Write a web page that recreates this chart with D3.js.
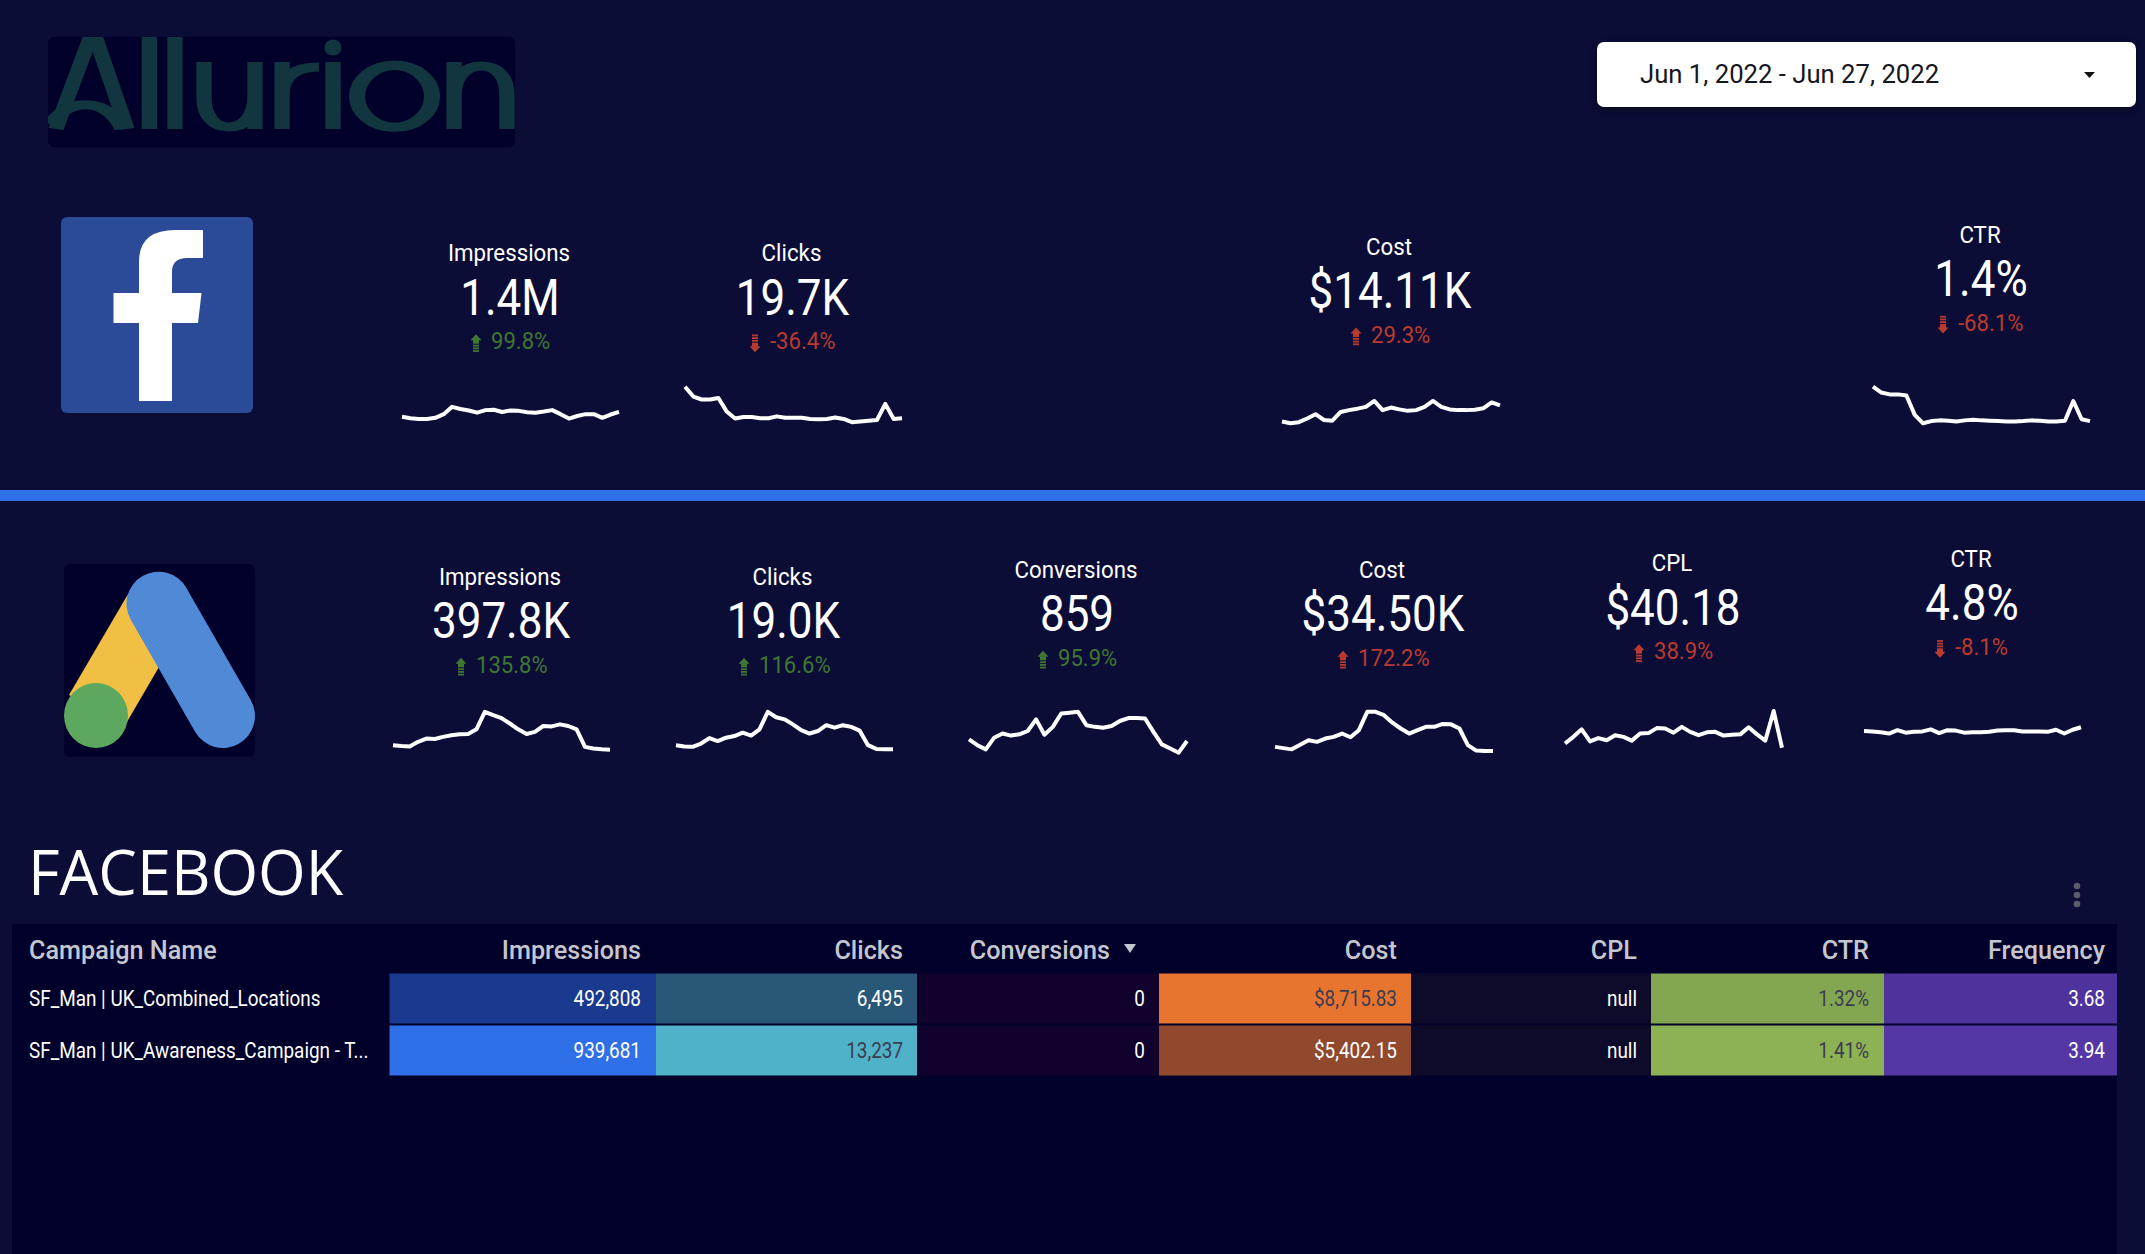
<!DOCTYPE html>
<html>
<head>
<meta charset="utf-8">
<script src="https://cdn.jsdelivr.net/npm/d3@7"></script>
<style>
  html, body { margin: 0; padding: 0; background: #0c0d36; }
  svg { display: block; }
  text { font-family: Roboto, sans-serif; }
</style>
</head>
<body>
<div id="chart"></div>
<script>
// scorecards, top row (facebook)
var fbLabels = ["Impressions", "Clicks", "Cost", "CTR"];
var fbValues = ["1.4M", "19.7K", "$14.11K", "1.4%"];
var fbDeltas = [99.8, -36.4, 29.3, -68.1];
var fbImpressionsTrend = [18,14,12,12,15,25,45,39,35,29,36,37,31,35,34,30,29,32,36,25,13,20,25,25,15,24,31];
var fbClicksTrend = [100,73,65,65,69,32,13,17,17,14,14,19,15,15,15,12,11,12,16,12,3,5,7,9,53,12,14];
var fbCostTrend = [5,0,3,13,25,9,7,31,36,40,45,61,36,43,38,34,36,45,61,45,38,36,36,37,41,57,49];
var fbCtrTrend = [100,84,79,79,76,23,0,6,8,7,5,8,10,8,7,6,5,5,6,8,7,5,5,7,61,11,6];

// scorecards, second row (google ads)
var adsLabels = ["Impressions", "Clicks", "Conversions", "Cost", "CPL", "CTR"];
var adsValues = ["397.8K", "19.0K", "859", "$34.50K", "$40.18", "4.8%"];
var adsDeltas = [135.8, 116.6, 95.9, 172.2, 38.9, -8.1];
var adsImpressionsTrend = [18,16,15,26,34,33,38,42,44,45,56,98,90,83,70,56,45,50,64,63,68,64,56,14,10,8,7];
var adsClicksTrend = [18,15,14,22,35,28,36,40,48,41,56,98,85,80,68,54,46,52,66,60,66,62,53,18,9,8,8];
var adsConversionsTrend = [32,18,8,36,46,41,44,52,80,43,62,94,96,98,66,62,60,64,76,83,83,82,50,20,10,0,28];
var adsCostTrend = [14,11,8,19,30,26,34,38,46,37,54,98,98,90,72,58,46,54,62,62,69,68,58,18,5,4,4];
var adsCplTrend = [22,38,56,27,35,30,42,38,29,46,47,59,58,48,62,50,42,49,50,41,43,44,61,44,29,100,12];
var adsCtrTrend = [52,51,49,46,54,48,50,51,56,47,54,53,48,49,49,50,53,54,54,51,51,51,50,55,46,55,61];

// table
var campaigns = ["SF_Man | UK_Combined_Locations", "SF_Man | UK_Awareness_Campaign - T..."];
var impressions = [492808, 939681];
var clicks = [6495, 13237];
var conversions = [0, 0];
var cost = [8715.83, 5402.15];
var cpl = [null, null];
var ctr = [1.32, 1.41];
var frequency = [3.68, 3.94];

var dateRange = "Jun 1, 2022 - Jun 27, 2022";

var BG = "#0c0d36", PANEL = "#01002a";
var GREEN = "#3e7734", RED = "#b93b30";
var COND = 0.88;   // the dashboard font is condensed, Roboto is not

var svg = d3.select("#chart").append("svg").attr("width", 2145).attr("height", 1254);
svg.append("rect").attr("width", 2145).attr("height", 1254).attr("fill", BG);

function label(g, x, y, str, size, color, anchor, weight, sx) {
    return g.append("text")
        .attr("transform", "translate(" + x + "," + y + ") scale(" + (sx || COND) + ",1)")
        .attr("text-anchor", anchor || "middle")
        .attr("font-size", size)
        .attr("font-weight", weight || 400)
        .attr("fill", color)
        .text(str);
}

// ---- logo, the wordmark is stretched sideways in the dashboard so it is drawn in a squeezed space
var LOGO = "#12363f", LX = 1.7;
function lx(x) { return (x / LX).toFixed(1); }
var defs = svg.append("defs");
defs.append("clipPath").attr("id", "logoClip").append("rect")
    .attr("x", 48).attr("y", 37).attr("width", 467).attr("height", 110).attr("rx", 6);
var logo = svg.append("g");
logo.append("rect").attr("x", 48).attr("y", 37).attr("width", 467).attr("height", 110).attr("rx", 6).attr("fill", PANEL);
var logoClip = logo.append("g").attr("clip-path", "url(#logoClip)");
var logoInk = logoClip.append("g").attr("transform", "scale(" + LX + ",1)")
    .attr("fill", "none").attr("stroke", LOGO).attr("stroke-width", 9);
var wordmark = [
    // A
    "M" + lx(56) + ",129 L" + lx(93) + ",30 L" + lx(127) + ",129",
    "M" + lx(50) + ",124 C" + lx(64) + ",106 " + lx(78) + ",104 " + lx(90) + ",105 C" + lx(104) + ",106 " + lx(116) + ",116 " + lx(122) + ",129",
    // l l
    "M" + lx(149.5) + ",30 V129", "M" + lx(175) + ",30 V129",
    // u
    "M" + lx(204) + ",62 V98 C" + lx(204) + ",116 " + lx(214) + ",127 " + lx(229) + ",127 C" + lx(246) + ",127 " + lx(255) + ",114 " + lx(255) + ",96 V62 M" + lx(255) + ",90 V129",
    // r
    "M" + lx(282) + ",62 V129 M" + lx(282) + ",94 C" + lx(282) + ",76 " + lx(296) + ",67 " + lx(319) + ",67",
    // i
    "M" + lx(333) + ",62 V129",
    // n
    "M" + lx(454) + ",62 V129 M" + lx(454) + ",95 C" + lx(454) + ",76 " + lx(466) + ",66 " + lx(482) + ",66 C" + lx(498) + ",66 " + lx(507) + ",78 " + lx(507) + ",95 V129"
];
wordmark.forEach(function(d) { logoInk.append("path").attr("d", d); });
logoInk.append("ellipse").attr("cx", lx(394.5)).attr("cy", 96.3).attr("rx", 37.5 / LX).attr("ry", 31).attr("stroke-width", 9.5);
logoClip.append("ellipse").attr("cx", 333).attr("cy", 47.5).attr("rx", 8.5).attr("ry", 8).attr("fill", LOGO);

// ---- date picker
svg.append("rect").attr("x", 1597).attr("y", 42).attr("width", 539).attr("height", 65).attr("rx", 7)
    .attr("fill", "#fff").style("filter", "drop-shadow(0 2px 3px rgba(0,0,0,.5))");
label(svg, 1640, 83, dateRange, 26, "#16161e", "start", 400, 0.988);
svg.append("path").attr("d", d3.line()([[2084, 72], [2095, 72], [2089.5, 78]])).attr("fill", "#111");

// ---- platform icons
svg.append("rect").attr("x", 61).attr("y", 217).attr("width", 192).attr("height", 196).attr("rx", 6).attr("fill", "#2b4a97");
svg.append("path").attr("fill", "#fff")
    .attr("d", "M139,401 V323 H113.5 V293 H139 V262 Q139,230 175,230 H203 V258 H187 Q172,258 172,272 V293 H201.5 L198,323 H172 V401 Z");

svg.append("rect").attr("x", 64).attr("y", 564).attr("width", 191).attr("height", 193).attr("rx", 6).attr("fill", PANEL);
svg.append("path").attr("fill", "#f2bf45").attr("d", "M127.5,595 L159,667 L124,727 L69,695 Z");
svg.append("line").attr("x1", 158.5).attr("y1", 603.7).attr("x2", 223).attr("y2", 716)
    .attr("stroke", "#5089d6").attr("stroke-width", 64).attr("stroke-linecap", "round");
svg.append("ellipse").attr("cx", 96).attr("cy", 715.5).attr("rx", 32).attr("ry", 32.5).attr("fill", "#5da85f");

// ---- divider
svg.append("rect").attr("x", 0).attr("y", 490).attr("width", 2145).attr("height", 11).attr("fill", "#2f70e8");

// ---- scorecards
function arrow(g, x, y, up, color) {
    // small striped arrow, y is the text baseline
    var a = g.append("g").attr("transform", "translate(" + x + "," + (y - 6) + ") scale(1," + (up ? 1 : -1) + ")");
    a.append("path").attr("d", "M-5.5,-3 L0,-9 L5.5,-3 Z").attr("fill", color);
    a.append("rect").attr("x", -3).attr("y", -3.5).attr("width", 6).attr("height", 4).attr("fill", color);
    [1.5, 4.2, 6.9].forEach(function(s) {
        a.append("rect").attr("x", -3).attr("y", s).attr("width", 6).attr("height", 1.8).attr("fill", color);
    });
}

function scorecard(o) {
    var g = svg.append("g");
    label(g, o.cx, o.base + 0.5, o.name, 24.5, "#fff", "middle", 400, 0.91);
    label(g, o.cx + 1, o.base + 54, o.value, 50, "#fff");
    var invert = o.name == "Cost" || o.name == "CPL";
    var good = invert ? o.delta < 0 : o.delta > 0;
    var color = good ? GREEN : RED;
    label(g, o.deltaX, o.base + 88.5, o.delta.toFixed(1) + "%", 23.5, color, "start", 400, 0.94);
    arrow(g, o.deltaX - 15, o.base + 88.5, o.delta > 0, color);

    var x = d3.scaleLinear().domain([0, o.trend.length - 1]).range(o.xr);
    var y = d3.scaleLinear().domain([0, 100]).range(o.yr);
    var line = d3.line().x(function(d, i) { return x(i); }).y(function(d) { return y(d); });
    g.append("path").datum(o.trend).attr("d", line)
        .attr("fill", "none").attr("stroke", "#fff").attr("stroke-width", 4).attr("stroke-linejoin", "round");
}

var fbTrends = [fbImpressionsTrend, fbClicksTrend, fbCostTrend, fbCtrTrend];
var fbCx = [509, 791.5, 1389, 1980];
var fbBase = [260.7, 260.7, 254, 242];
var fbDeltaX = [491, 770, 1371, 1958];
var fbSpark = [[402, 619], [685, 902], [1282, 1500], [1873, 2090]];
fbLabels.forEach(function(d, i) {
    scorecard({name: d, value: fbValues[i], delta: fbDeltas[i], trend: fbTrends[i],
        cx: fbCx[i], base: fbBase[i], deltaX: fbDeltaX[i], xr: fbSpark[i], yr: [423.3, 386.7]});
});

var adsTrends = [adsImpressionsTrend, adsClicksTrend, adsConversionsTrend, adsCostTrend, adsCplTrend, adsCtrTrend];
var adsCx = [500, 782.5, 1076, 1382, 1672, 1971];
var adsBase = [584.3, 584.3, 577.3, 577.3, 570.7, 566.3];
var adsDeltaX = [476, 759, 1058, 1358, 1654, 1955];
var adsSpark = [[393, 610], [676, 893], [969, 1187], [1275, 1493], [1565, 1782], [1864, 2081]];
adsLabels.forEach(function(d, i) {
    scorecard({name: d, value: adsValues[i], delta: adsDeltas[i], trend: adsTrends[i],
        cx: adsCx[i], base: adsBase[i], deltaX: adsDeltaX[i], xr: adsSpark[i], yr: [752.7, 711]});
});

// ---- table
svg.append("text").attr("transform", "translate(28,894.5) scale(.98,1)")
    .style("font-family", "'Open Sans'").attr("font-size", 62.5).attr("fill", "#fff").text("FACEBOOK");

[886, 895, 904].forEach(function(cy) {
    svg.append("circle").attr("cx", 2077).attr("cy", cy).attr("r", 3.3).attr("fill", "#5c5c6e");
});

svg.append("rect").attr("x", 12).attr("y", 924).attr("width", 2105).attr("height", 330).attr("fill", PANEL);

var columns = [
    {name: "Impressions", values: impressions, x0: 389.5, x1: 656, textX: 641, zero: PANEL, top: "#2f6fe8", fmt: d3.format(",")},
    {name: "Clicks", values: clicks, x0: 656, x1: 917, textX: 903, zero: PANEL, top: "#50b2c8", fmt: d3.format(",")},
    {name: "Conversions", values: conversions, x0: 917, x1: 1159, textX: 1145, zero: "#10022c", top: "#10022c", fmt: d3.format(","), headX: 1110},
    {name: "Cost", values: cost, x0: 1159, x1: 1411, textX: 1397, zero: "#01002a", top: "#e8752f", fmt: d3.format("$,.2f")},
    {name: "CPL", values: cpl, x0: 1411, x1: 1651, textX: 1637, zero: "#0e0a2a", top: "#0e0a2a", fmt: d3.format("$,.2f")},
    {name: "CTR", values: ctr, x0: 1651, x1: 1884, textX: 1869, zero: PANEL, top: "#8cb254", fmt: function(d) { return d.toFixed(2) + "%"; }},
    {name: "Frequency", values: frequency, x0: 1884, x1: 2117, textX: 2105, zero: PANEL, top: "#5437a5", fmt: d3.format(".2f")}
];
var rowTop = [973.5, 1025.5], rowH = 50, rowBase = [1006.3, 1058];
var HEAD = "#c6c6cf";

label(svg, 29, 958.5, "Campaign Name", 26, HEAD, "start", 500, 0.97);
svg.append("path").attr("d", d3.line()([[1124, 944], [1136, 944], [1130, 953]])).attr("fill", HEAD);

campaigns.forEach(function(c, i) {
    label(svg, 29, rowBase[i], c, 22, "#fff", "start", 400, 0.86);
});

columns.forEach(function(col) {
    label(svg, col.headX || col.textX, 958.5, col.name, 26, HEAD, "end", 500, 0.97);
    var color = d3.scaleLinear().domain([0, d3.max(col.values) || 1]).range([col.zero, col.top]);
    col.values.forEach(function(v, i) {
        var fill = color(v || 0);
        svg.append("rect").attr("x", col.x0).attr("y", rowTop[i]).attr("width", col.x1 - col.x0).attr("height", rowH).attr("fill", fill);
        var dark = d3.lab(fill).l > 55;
        label(svg, col.textX, rowBase[i], v === null ? "null" : col.fmt(v), 22, dark ? "#3c3c50" : "#fff", "end", 400, 0.86);
    });
});
</script>
</body>
</html>
